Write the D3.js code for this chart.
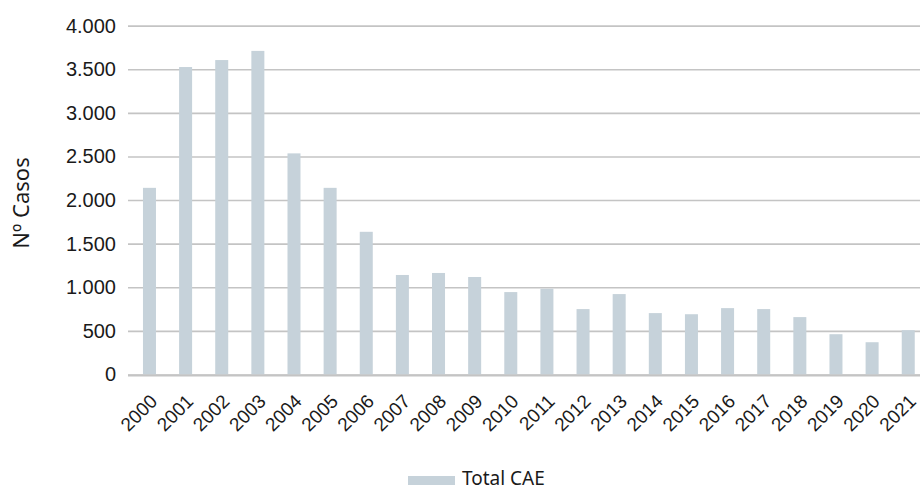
<!DOCTYPE html>
<html>
<head>
<meta charset="utf-8">
<script src="https://cdn.jsdelivr.net/npm/d3@7"></script>
<style>
  html, body { margin: 0; padding: 0; background: #fff; }
  svg { display: block; font-family: "Noto Sans", "Open Sans", sans-serif; }
</style>
</head>
<body>
<svg id="chart" width="920" height="490"></svg>
<script>
// Casos por año
const years = ["2000","2001","2002","2003","2004","2005","2006","2007","2008","2009","2010",
               "2011","2012","2013","2014","2015","2016","2017","2018","2019","2020","2021"];
const totalCAE = [2140, 3525, 3605, 3710, 2535, 2140, 1636, 1141, 1164, 1118, 945,
                  983, 750, 922, 704, 691, 761, 750, 658, 462, 370, 508];
const yTicks = [0, 500, 1000, 1500, 2000, 2500, 3000, 3500, 4000];
const seriesName = "Total CAE";
const yTitle = "Nº Casos";

const svg = d3.select("#chart");
const barColor = "#c6d2da";
const gridColor = "#c4c4c4";
const textColor = "#1a1a1a";

const plotLeft = 128, plotRight = 920;
const y = d3.scaleLinear().domain([0, 4000]).range([374.5, 25.6]);
const x = d3.scaleBand().domain(years).range([131.4, 926.3]).paddingInner(0.64).paddingOuter(0.32);

// Gridlines + tick labels
const yAxis = d3.axisLeft(y).tickValues(yTicks)
  .tickSize(-(plotRight - plotLeft))
  .tickFormat(d => d3.format(",")(d).replace(/,/g, "."));
const gy = svg.append("g").attr("transform", `translate(${plotLeft},0)`).call(yAxis);
gy.select(".domain").remove();
gy.selectAll(".tick line").attr("stroke", gridColor).attr("stroke-width", 1.6);
gy.selectAll(".tick text").attr("x", -12).attr("fill", textColor)
  .style("font-size", "20px");

// Bars
svg.append("g").selectAll("rect").data(totalCAE).join("rect")
  .attr("x", (d, i) => x(years[i]))
  .attr("width", x.bandwidth())
  .attr("y", d => y(d))
  .attr("height", d => y(0) - y(d))
  .attr("fill", barColor);

// Baseline
svg.append("line").attr("x1", plotLeft).attr("x2", plotRight)
  .attr("y1", y(0) + 1).attr("y2", y(0) + 1)
  .attr("stroke", gridColor).attr("stroke-width", 1.8);

// Year labels
const xAxis = d3.axisBottom(x).tickSize(0);
const gx = svg.append("g").attr("transform", `translate(0,${y(0)})`).call(xAxis);
gx.select(".domain").remove();
gx.selectAll(".tick text")
  .attr("fill", textColor)
  .style("font-size", "19px")
  .attr("text-anchor", "end")
  .attr("dy", null)
  .attr("y", null)
  .attr("transform", "translate(9,28) rotate(-45)");

// Y title
svg.append("text")
  .attr("transform", "translate(29,203) rotate(-90)")
  .attr("text-anchor", "middle")
  .attr("fill", textColor)
  .style("font-size", "22px")
  .text(yTitle);

// Legend
const lg = svg.append("g").attr("transform", "translate(408,476)");
lg.append("rect").attr("width", 47).attr("height", 9).attr("fill", barColor);
lg.append("text").attr("x", 54).attr("y", 9).attr("fill", textColor)
  .style("font-size", "19px").text(seriesName);
</script>
</body>
</html>
